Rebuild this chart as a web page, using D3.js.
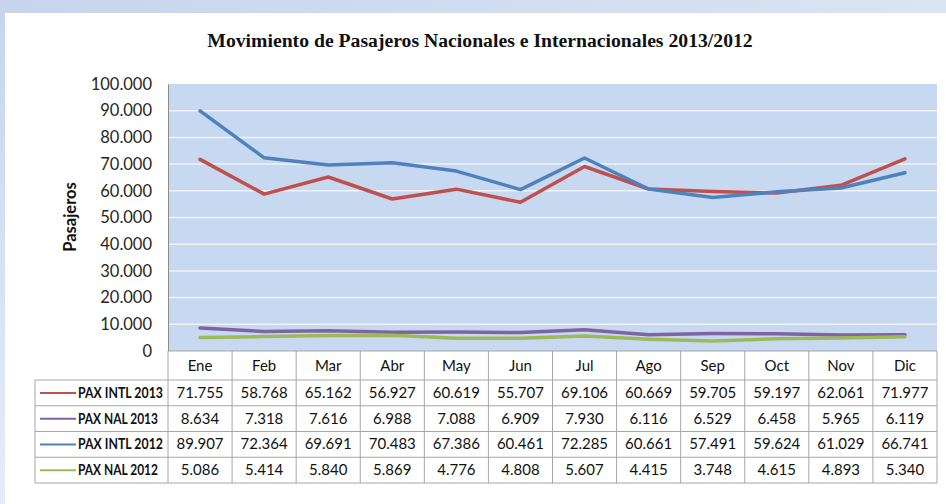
<!DOCTYPE html>
<html>
<head>
<meta charset="utf-8">
<script src="https://cdn.jsdelivr.net/npm/d3@7"></script>
<style>
  body { margin: 0; padding: 0; overflow: hidden; }
  svg { display: block; }
</style>
</head>
<body>
<svg id="chart" width="946" height="504"></svg>
<script>
// data
const months = ["Ene", "Feb", "Mar", "Abr", "May", "Jun", "Jul", "Ago", "Sep", "Oct", "Nov", "Dic"];
const paxIntl2013 = [71755, 58768, 65162, 56927, 60619, 55707, 69106, 60669, 59705, 59197, 62061, 71977];
const paxNal2013 = [8634, 7318, 7616, 6988, 7088, 6909, 7930, 6116, 6529, 6458, 5965, 6119];
const paxIntl2012 = [89907, 72364, 69691, 70483, 67386, 60461, 72285, 60661, 57491, 59624, 61029, 66741];
const paxNal2012 = [5086, 5414, 5840, 5869, 4776, 4808, 5607, 4415, 3748, 4615, 4893, 5340];
const seriesNames = ["PAX INTL 2013", "PAX NAL 2013", "PAX INTL 2012", "PAX NAL 2012"];
const yTicks = [0, 10000, 20000, 30000, 40000, 50000, 60000, 70000, 80000, 90000, 100000];

const series = [
  { name: seriesNames[0], values: paxIntl2013, color: "#c0504d" },
  { name: seriesNames[1], values: paxNal2013, color: "#8064a2" },
  { name: seriesNames[2], values: paxIntl2012, color: "#4f81bd" },
  { name: seriesNames[3], values: paxNal2012, color: "#9bbb59" }
];

const es = d3.formatLocale({ decimal: ",", thousands: ".", grouping: [3], currency: ["", ""] });
const fmt = es.format(",d");

const svg = d3.select("#chart");
const font = "Lato, 'Open Sans', sans-serif";

// frame: blue strip around a white panel
const defs = svg.append("defs");
const bg = defs.append("linearGradient").attr("id", "bgGrad")
  .attr("x1", 0).attr("y1", 0).attr("x2", 0).attr("y2", 1);
bg.append("stop").attr("offset", "0%").attr("stop-color", "#c6d5ec");
bg.append("stop").attr("offset", "100%").attr("stop-color", "#e6edf7");
svg.append("rect").attr("width", 946).attr("height", 504).attr("fill", "url(#bgGrad)");
const stripGrad = defs.append("linearGradient").attr("id", "topGrad")
  .attr("x1", 0).attr("y1", 0).attr("x2", 1).attr("y2", 0);
stripGrad.append("stop").attr("offset", "0%").attr("stop-color", "#c6d5ec");
stripGrad.append("stop").attr("offset", "100%").attr("stop-color", "#dbe4f2");
svg.append("rect").attr("width", 946).attr("height", 13).attr("fill", "url(#topGrad)");
svg.append("rect").attr("x", 5).attr("y", 13).attr("width", 941).attr("height", 491).attr("fill", "#fff");

// plot area
const left = 168, right = 937, plotTop = 84, plotBottom = 351;
const x = d3.scaleBand().domain(months).range([left, right]);
const y = d3.scaleLinear().domain([0, 100000]).range([plotBottom, plotTop]);

svg.append("rect")
  .attr("x", left).attr("y", plotTop)
  .attr("width", right - left).attr("height", plotBottom - plotTop)
  .attr("fill", "#c6d9f0");

svg.append("g").selectAll("line")
  .data(yTicks.filter(d => d > 0 && d < 100000))
  .join("line")
  .attr("x1", left).attr("x2", right)
  .attr("y1", d => y(d)).attr("y2", d => y(d))
  .attr("stroke", "#eef3fa").attr("stroke-width", 1.5);

// y axis
const yAxis = svg.append("g")
  .attr("transform", `translate(${left},0)`)
  .call(d3.axisLeft(y).tickValues(yTicks).tickFormat(fmt).tickSize(0).tickPadding(16));
yAxis.select(".domain").attr("stroke", "#8c8c8c");
yAxis.selectAll("text")
  .attr("font-family", font).attr("font-size", 16.5).attr("fill", "#262626");

svg.append("text")
  .attr("transform", "translate(76,217) rotate(-90)")
  .attr("text-anchor", "middle")
  .attr("font-family", font).attr("font-size", 16.5).attr("font-weight", "bold")
  .attr("fill", "#111")
  .text("Pasajeros");

// title
svg.append("text")
  .attr("x", 480).attr("y", 47)
  .attr("text-anchor", "middle")
  .attr("font-family", "'Liberation Serif', 'Times New Roman', serif")
  .attr("font-size", 19.7).attr("font-weight", "bold")
  .attr("fill", "#111")
  .text("Movimiento de Pasajeros Nacionales e Internacionales 2013/2012");

// lines
const line = d3.line()
  .x((d, i) => x(months[i]) + x.bandwidth() / 2)
  .y(d => y(d));

svg.append("g").selectAll("path")
  .data(series)
  .join("path")
  .attr("d", d => line(d.values))
  .attr("fill", "none")
  .attr("stroke", d => d.color)
  .attr("stroke-width", 3.5)
  .attr("stroke-linejoin", "round")
  .attr("stroke-linecap", "round");

// data table
const rowH = 25.75, headH = 29, tableLeft = 35;
const gridColor = "#a6a6a6";
const table = svg.append("g");

// header row
table.append("line").attr("x1", left).attr("x2", right)
  .attr("y1", plotBottom).attr("y2", plotBottom).attr("stroke", gridColor);
table.selectAll(".hdr")
  .data(months)
  .join("text")
  .attr("x", d => x(d) + x.bandwidth() / 2)
  .attr("y", plotBottom + headH / 2 + 5)
  .attr("text-anchor", "middle")
  .attr("font-family", font).attr("font-size", 15).attr("fill", "#111")
  .text(d => d);

const rowsTop = plotBottom + headH;
const rowsBottom = rowsTop + rowH * series.length;

// horizontal rules
d3.range(series.length + 1).forEach(k => {
  table.append("line")
    .attr("x1", tableLeft).attr("x2", right)
    .attr("y1", rowsTop + k * rowH).attr("y2", rowsTop + k * rowH)
    .attr("stroke", gridColor);
});
// vertical rules
table.append("line").attr("x1", tableLeft).attr("x2", tableLeft)
  .attr("y1", rowsTop).attr("y2", rowsBottom).attr("stroke", gridColor);
months.forEach(m => {
  table.append("line").attr("x1", x(m)).attr("x2", x(m))
    .attr("y1", plotBottom).attr("y2", rowsBottom).attr("stroke", gridColor);
});
table.append("line").attr("x1", right).attr("x2", right)
  .attr("y1", plotBottom).attr("y2", rowsBottom).attr("stroke", gridColor);

series.forEach((s, k) => {
  const cy = rowsTop + k * rowH + rowH / 2;
  table.append("line")
    .attr("x1", 40).attr("x2", 76)
    .attr("y1", cy).attr("y2", cy)
    .attr("stroke", s.color).attr("stroke-width", 2);
  const g = table.append("g").attr("transform", `translate(78,${cy + 5})`);
  const lbl = g.append("text")
    .attr("font-family", font).attr("font-size", 15).attr("font-weight", "bold")
    .attr("fill", "#111")
    .text(s.name);
  // squeeze horizontally to the narrower width of the original label
  const target = s.name.includes("INTL") ? 85 : 80;
  const w = lbl.node().getComputedTextLength();
  if (w > target) g.attr("transform", `translate(78,${cy + 5}) scale(${target / w},1)`);
  table.selectAll(null)
    .data(s.values)
    .join("text")
    .attr("x", (d, i) => x(months[i]) + x.bandwidth() / 2)
    .attr("y", cy + 5)
    .attr("text-anchor", "middle")
    .attr("font-family", font).attr("font-size", 15).attr("fill", "#111")
    .text(d => fmt(d));
});
</script>
</body>
</html>
